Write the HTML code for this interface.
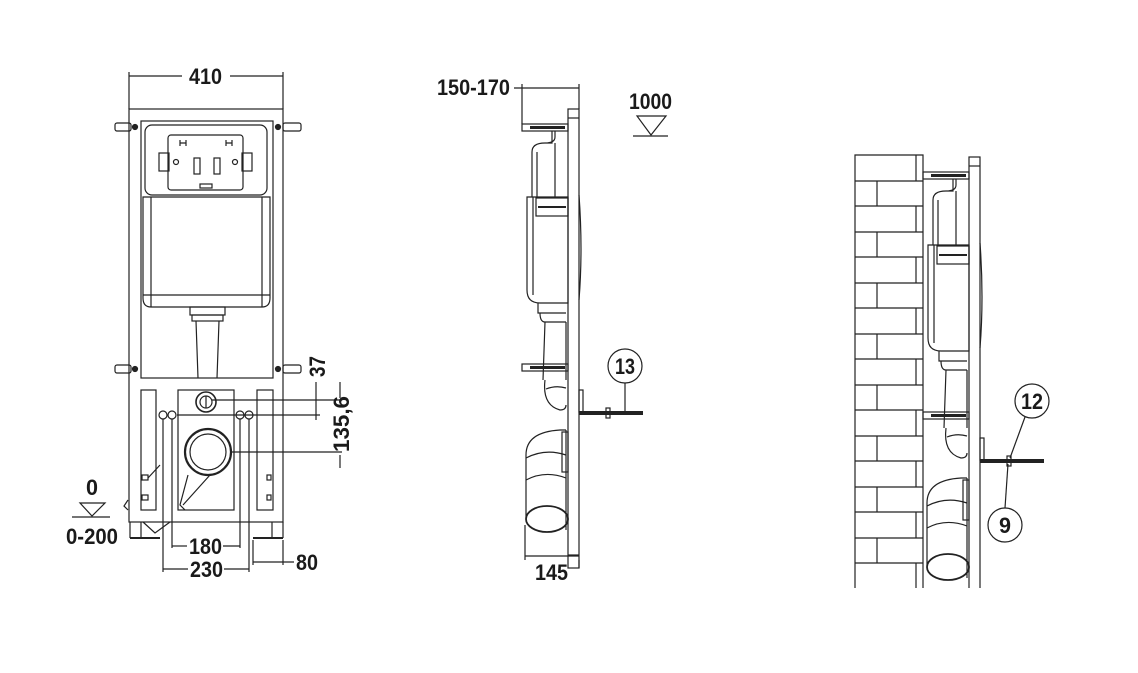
<!DOCTYPE html>
<html><head><meta charset="utf-8"><style>
html,body{margin:0;padding:0;background:#fff;}
svg{display:block;}
text{font-family:"Liberation Sans Narrow","Liberation Sans",sans-serif;font-weight:bold;font-size:22px;fill:#1a1a1a;}
</style></head><body>
<svg width="1138" height="673" viewBox="0 0 1138 673" xmlns="http://www.w3.org/2000/svg">
<defs>
<clipPath id="cl"><rect x="900" y="100" width="200" height="488"/></clipPath>
<g id="side" fill="none" stroke="#222" stroke-width="1.2">
  <rect x="568" y="109" width="11" height="459"/>
  <line x1="568" y1="118" x2="579" y2="118"/>
  <line x1="568" y1="555" x2="579" y2="555"/>
  <path d="M579 195 Q583 250 579 300"/>
  <rect x="522" y="124" width="46" height="7"/>
  <line x1="530" y1="127.5" x2="565" y2="127.5" stroke-width="3"/>
  <path d="M532 197 V152 Q532 143 545 143 H552 V131 M545 143 Q555 143 555 137 V131"/>
  <line x1="555" y1="143" x2="555" y2="197"/>
  <line x1="537" y1="152" x2="537" y2="197"/>
  <path d="M527 197 H568 V303 H540 Q527 303 527 290 Z"/>
  <line x1="533" y1="197" x2="533" y2="295"/>
  <rect x="536" y="198" width="32" height="18"/>
  <line x1="538" y1="207" x2="566" y2="207" stroke-width="2"/>
  <path d="M538 303 V313 H566 M540 313 Q540 322 545 322 H566"/>
  <path d="M545 322 L543 380 M566 322 V380"/>
  <rect x="522" y="364" width="46" height="7"/>
  <line x1="530" y1="367.5" x2="565" y2="367.5" stroke-width="3"/>
  <path d="M545 380 Q542 405 560 410 Q566 410 566 405"/>
  <path d="M546 389 Q556 385 566 388"/>
  <rect x="579" y="390" width="4" height="22"/>
  <path d="M526 518 V455 Q526 432 560 430 H566"/>
  <path d="M526 458 Q545 448 566 455"/>
  <path d="M526 480 Q545 470 566 478"/>
  <line x1="566" y1="430" x2="566" y2="530"/>
  <rect x="562" y="432" width="6" height="40"/>
  <ellipse cx="547" cy="519" rx="21" ry="13" stroke-width="1.8"/>
</g>
</defs>

<!-- LEFT FRONT VIEW -->
<g fill="none" stroke="#222" stroke-width="1.2">
  <line x1="129" y1="72" x2="129" y2="109"/>
  <line x1="283" y1="72" x2="283" y2="109"/>
  <line x1="129" y1="76" x2="182" y2="76"/>
  <line x1="230" y1="76" x2="283" y2="76"/>
  <rect x="129" y="109" width="154" height="413"/>
  <rect x="141" y="121" width="132" height="257"/>
  <rect x="145" y="125" width="122" height="70" rx="7"/>
  <rect x="168" y="135" width="75" height="55" rx="3"/>
  <rect x="159" y="153" width="10" height="18"/>
  <rect x="242" y="153" width="10" height="18"/>
  <circle cx="176" cy="162" r="2.5"/><circle cx="235" cy="162" r="2.5"/>
  <rect x="194" y="158" width="6" height="16"/><rect x="214" y="158" width="6" height="16"/>
  <rect x="200" y="184" width="12" height="4"/>
  <path d="M180 140 v6 M186 140 v6 M180 143 h6 M226 140 v6 M232 140 v6 M226 143 h6"/>
  <path d="M143 197 H270 V298 Q270 307 262 307 H151 Q143 307 143 298 Z"/>
  <line x1="151" y1="197" x2="151" y2="307"/>
  <line x1="262" y1="197" x2="262" y2="307"/>
  <line x1="143" y1="295" x2="270" y2="295"/>
  <rect x="190" y="307" width="35" height="8"/>
  <rect x="192" y="315" width="31" height="6"/>
  <path d="M196 321 L198 378 M219 321 L217 378"/>
  <rect x="115" y="123" width="16" height="8" rx="2"/><rect x="283" y="123" width="18" height="8" rx="2"/>
  <rect x="115" y="365" width="16" height="8" rx="2"/><rect x="283" y="365" width="18" height="8" rx="2"/>
  <circle cx="135" cy="127" r="2.5" fill="#222"/><circle cx="278" cy="127" r="2.5" fill="#222"/>
  <circle cx="135" cy="369" r="2.5" fill="#222"/><circle cx="278" cy="369" r="2.5" fill="#222"/>
  <rect x="141" y="390" width="15" height="120"/>
  <rect x="257" y="390" width="16" height="120"/>
  <rect x="178" y="390" width="56" height="120"/>
  <circle cx="206" cy="402" r="10" stroke-width="1.6"/>
  <circle cx="206" cy="402" r="6"/>
  <line x1="206" y1="396" x2="206" y2="408"/>
  <circle cx="208" cy="452" r="23" stroke-width="2.2"/>
  <circle cx="208" cy="452" r="18"/>
  <path d="M188 475 L180 505 L185 510 M210 475 L183 505"/>
  <circle cx="163" cy="415" r="4"/><circle cx="172" cy="415" r="4"/>
  <circle cx="240" cy="415" r="4"/><circle cx="249" cy="415" r="4"/>
  <rect x="142" y="475" width="6" height="5"/><rect x="142" y="495" width="6" height="5"/>
  <rect x="267" y="475" width="4" height="5"/><rect x="267" y="495" width="4" height="5"/>
  <path d="M148 478 L160 465"/>
  <path d="M128 500 L124 506 L128 510 M143 522 L155 533 L170 522"/>
  <line x1="130" y1="522" x2="130" y2="538"/><line x1="141" y1="522" x2="141" y2="538"/>
  <line x1="272" y1="522" x2="272" y2="538"/><line x1="283" y1="522" x2="283" y2="538"/>
  <line x1="130" y1="538" x2="160" y2="538" stroke-width="2"/>
  <line x1="253" y1="538" x2="283" y2="538" stroke-width="2"/>
  <line x1="172" y1="419" x2="172" y2="548"/><line x1="240" y1="419" x2="240" y2="548"/>
  <line x1="163" y1="419" x2="163" y2="572"/><line x1="249" y1="419" x2="249" y2="572"/>
  <line x1="172" y1="546" x2="187" y2="546"/><line x1="223" y1="546" x2="240" y2="546"/>
  <line x1="163" y1="569" x2="188" y2="569"/><line x1="224" y1="569" x2="249" y2="569"/>
  <line x1="253" y1="540" x2="253" y2="565"/><line x1="283" y1="540" x2="283" y2="565"/>
  <line x1="253" y1="562" x2="294" y2="562"/>
  <line x1="212" y1="400" x2="340" y2="400"/>
  <line x1="177" y1="415" x2="320" y2="415"/>
  <line x1="230" y1="452" x2="342" y2="452"/>
  <line x1="316" y1="382" x2="316" y2="420"/>
  <line x1="340" y1="382" x2="340" y2="398"/>
  <line x1="340" y1="455" x2="340" y2="468"/>
  <path d="M80 503 H105 L92 516 Z"/>
  <line x1="72" y1="517" x2="110" y2="517"/>
</g>
<text x="189" y="84" textLength="33" lengthAdjust="spacingAndGlyphs">410</text>
<text x="189" y="554" textLength="33" lengthAdjust="spacingAndGlyphs">180</text>
<text x="190" y="577" textLength="33" lengthAdjust="spacingAndGlyphs">230</text>
<text x="296" y="570" textLength="22" lengthAdjust="spacingAndGlyphs">80</text>
<text x="86" y="495" textLength="12" lengthAdjust="spacingAndGlyphs">0</text>
<text x="66" y="544" textLength="52" lengthAdjust="spacingAndGlyphs">0-200</text>
<text transform="translate(325,377) rotate(-90)" textLength="21" lengthAdjust="spacingAndGlyphs">37</text>
<text transform="translate(349,452) rotate(-90)" textLength="56" lengthAdjust="spacingAndGlyphs">135,6</text>

<!-- MIDDLE SIDE VIEW -->
<use href="#side"/>
<g fill="none" stroke="#222" stroke-width="1.2">
  <line x1="522" y1="84" x2="522" y2="124"/>
  <line x1="579" y1="84" x2="579" y2="109"/>
  <line x1="514" y1="88" x2="579" y2="88"/>
  <line x1="525" y1="525" x2="525" y2="560"/>
  <line x1="579" y1="568" x2="579" y2="560"/>
  <line x1="525" y1="556" x2="579" y2="556"/>
  <path d="M637 116 H666 L651 135 Z"/>
  <line x1="633" y1="136" x2="668" y2="136"/>
  <circle cx="625" cy="366" r="17"/>
  <line x1="625" y1="383" x2="625" y2="413"/>
  <line x1="579" y1="413" x2="643" y2="413" stroke-width="4"/>
  <rect x="606" y="408" width="4" height="10"/>
</g>
<text x="437" y="95" textLength="73" lengthAdjust="spacingAndGlyphs">150-170</text>
<text x="629" y="109" textLength="43" lengthAdjust="spacingAndGlyphs">1000</text>
<text x="535" y="580" textLength="33" lengthAdjust="spacingAndGlyphs">145</text>
<text x="615" y="374" textLength="20" lengthAdjust="spacingAndGlyphs">13</text>

<!-- RIGHT WALL VIEW -->
<g fill="none" stroke="#222" stroke-width="1.2">
  <path d="M855 588 V155 H923 V588"/>
  <line x1="855" y1="181" x2="923" y2="181"/><line x1="855" y1="206" x2="923" y2="206"/>
  <line x1="855" y1="232" x2="923" y2="232"/><line x1="855" y1="257" x2="923" y2="257"/>
  <line x1="855" y1="283" x2="923" y2="283"/><line x1="855" y1="308" x2="923" y2="308"/>
  <line x1="855" y1="334" x2="923" y2="334"/><line x1="855" y1="359" x2="923" y2="359"/>
  <line x1="855" y1="385" x2="923" y2="385"/><line x1="855" y1="410" x2="923" y2="410"/>
  <line x1="855" y1="436" x2="923" y2="436"/><line x1="855" y1="461" x2="923" y2="461"/>
  <line x1="855" y1="487" x2="923" y2="487"/><line x1="855" y1="512" x2="923" y2="512"/>
  <line x1="855" y1="538" x2="923" y2="538"/><line x1="855" y1="563" x2="923" y2="563"/>
  <path d="M916 155V181 M877 181V206 M916 206V232 M877 232V257 M916 257V283 M877 283V308 M916 308V334 M877 334V359 M916 359V385 M877 385V410 M916 410V436 M877 436V461 M916 461V487 M877 487V512 M916 512V538 M877 538V563 M916 563V588"/>
</g>
<g clip-path="url(#cl)"><use href="#side" transform="translate(401,48)"/></g>
<g fill="none" stroke="#222" stroke-width="1.2">
  <line x1="980" y1="461" x2="1044" y2="461" stroke-width="4"/>
  <rect x="1007" y="456" width="4" height="10"/>
  <circle cx="1032" cy="401" r="17"/>
  <circle cx="1005" cy="525" r="17"/>
  <line x1="1025" y1="417" x2="1010" y2="458"/>
  <line x1="1008" y1="464" x2="1005" y2="508"/>
</g>
<text x="1021" y="409" textLength="22" lengthAdjust="spacingAndGlyphs">12</text>
<text x="999" y="533" textLength="12" lengthAdjust="spacingAndGlyphs">9</text>
</svg>
</body></html>
